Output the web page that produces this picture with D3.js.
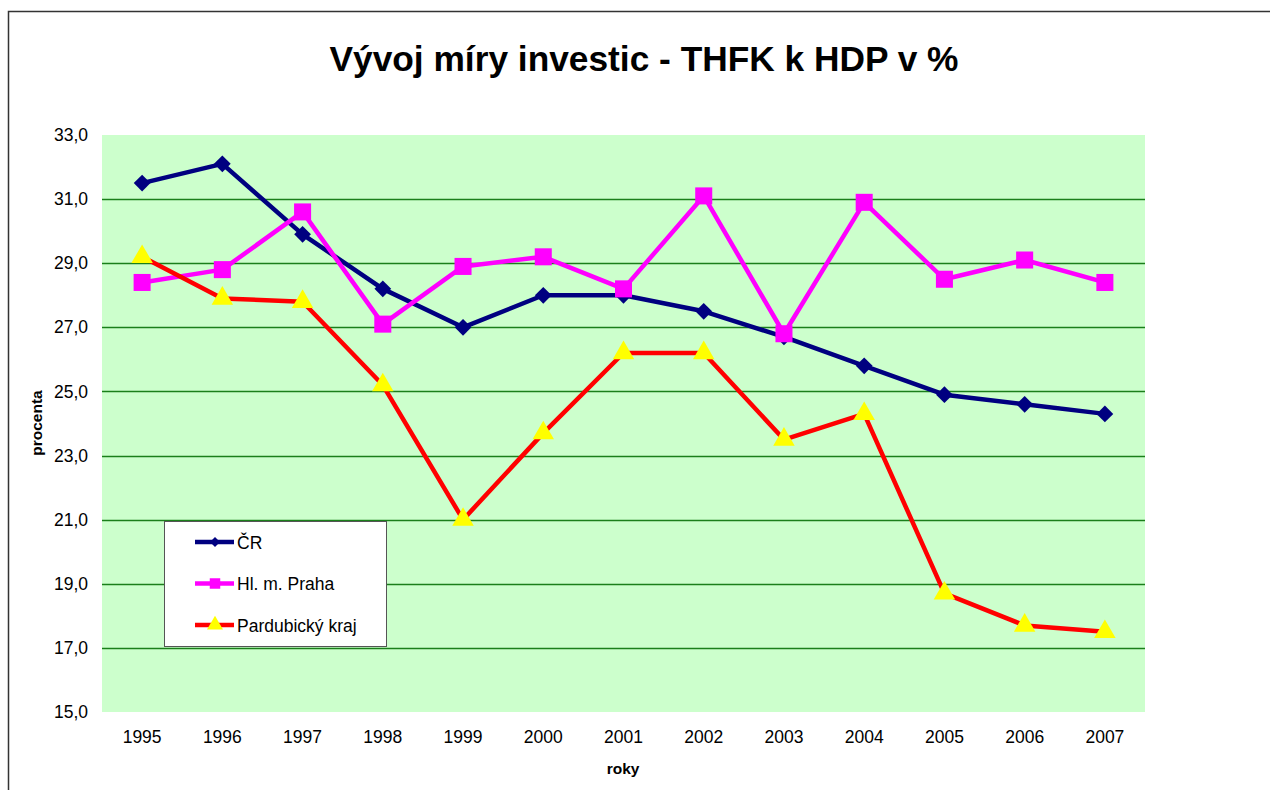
<!DOCTYPE html>
<html>
<head>
  <meta charset="utf-8">
  <style>
    body { margin: 0; background: #fff; font-family: "Liberation Sans", Arial, sans-serif; }
  </style>
  <title>Vývoj míry investic</title>
</head>
<body>
  <script src="https://cdn.jsdelivr.net/npm/d3@7"></script>
  <script>
    var years = [1995, 1996, 1997, 1998, 1999, 2000, 2001, 2002, 2003, 2004, 2005, 2006, 2007];
    var cr = [31.5, 32.1, 29.9, 28.2, 27.0, 28.0, 28.0, 27.5, 26.7, 25.8, 24.9, 24.6, 24.3];
    var praha = [28.4, 28.8, 30.6, 27.1, 28.9, 29.2, 28.2, 31.1, 26.8, 30.9, 28.5, 29.1, 28.4];
    var pardubice = [29.2, 27.9, 27.8, 25.2, 21.0, 23.7, 26.2, 26.2, 23.5, 24.3, 18.7, 17.7, 17.5];
    var yTicks = [15, 17, 19, 21, 23, 25, 27, 29, 31, 33];

    var series = [
      { name: "ČR", values: cr, color: "#000080", marker: "diamond", fill: "#000080" },
      { name: "Hl. m. Praha", values: praha, color: "#ff00ff", marker: "square", fill: "#ff00ff" },
      { name: "Pardubický kraj", values: pardubice, color: "#ff0000", marker: "triangle", fill: "#ffff00" }
    ];

    var W = 1270, H = 790;
    var plot = { left: 102, top: 135, right: 1145, bottom: 712 };

    var svg = d3.select("body").append("svg")
      .attr("width", W)
      .attr("height", H);

    // outer chart border
    svg.append("rect")
      .attr("x", 8.5).attr("y", 11.5)
      .attr("width", 1275).attr("height", 800)
      .attr("fill", "#fff")
      .attr("stroke", "#333").attr("stroke-width", 1.5);

    var x = d3.scaleBand()
      .domain(years)
      .range([plot.left, plot.right]);

    var y = d3.scaleLinear()
      .domain([15, 33])
      .range([plot.bottom, plot.top]);

    svg.append("rect")
      .attr("x", plot.left).attr("y", plot.top)
      .attr("width", plot.right - plot.left)
      .attr("height", plot.bottom - plot.top)
      .attr("fill", "#ccffcc");

    // gridlines
    svg.append("g").selectAll("line")
      .data(yTicks.filter(d => d > 15 && d < 33))
      .join("line")
      .attr("x1", plot.left).attr("x2", plot.right)
      .attr("y1", d => Math.round(y(d)) + 0.5).attr("y2", d => Math.round(y(d)) + 0.5)
      .attr("stroke", "#1a7f1a").attr("stroke-width", 1.3);

    // y axis labels
    var yAxis = d3.axisLeft(y)
      .tickValues(yTicks)
      .tickFormat(d => d3.format(".1f")(d).replace(".", ","))
      .tickSize(0)
      .tickPadding(14);
    svg.append("g")
      .attr("transform", "translate(" + plot.left + ",0)")
      .call(yAxis)
      .call(g => g.select(".domain").remove())
      .selectAll("text")
      .attr("font-size", 17.5)
      .attr("font-family", "Liberation Sans, Arial, sans-serif")
      .attr("fill", "#000");

    // x axis labels
    var xAxis = d3.axisBottom(x).tickSize(0).tickPadding(19);
    svg.append("g")
      .attr("transform", "translate(0," + plot.bottom + ")")
      .call(xAxis)
      .call(g => g.select(".domain").remove())
      .selectAll("text")
      .attr("font-size", 17.5)
      .attr("font-family", "Liberation Sans, Arial, sans-serif")
      .attr("fill", "#000");

    // title and axis titles
    svg.append("text")
      .attr("x", 644).attr("y", 71)
      .attr("text-anchor", "middle")
      .attr("font-size", 35.3).attr("font-weight", "bold")
      .text("Vývoj míry investic - THFK k HDP v %");

    svg.append("text")
      .attr("x", 623).attr("y", 774)
      .attr("text-anchor", "middle")
      .attr("font-size", 15.5).attr("font-weight", "bold")
      .text("roky");

    svg.append("text")
      .attr("transform", "translate(42,423) rotate(-90)")
      .attr("text-anchor", "middle")
      .attr("font-size", 15.5).attr("font-weight", "bold")
      .text("procenta");

    var cx = d => x(d) + x.bandwidth() / 2;

    var symbols = {
      diamond: d3.symbol().type(d3.symbolSquare).size(140),
      square: d3.symbol().type(d3.symbolSquare).size(290),
      triangle: d3.symbol().type(d3.symbolTriangle).size(200)
    };
    var rotate = { diamond: 45, square: 0, triangle: 0 };

    var line = d3.line()
      .x((d, i) => cx(years[i]))
      .y(d => y(d));

    series.forEach(function (s) {
      svg.append("path").datum(s.values)
        .attr("d", line)
        .attr("fill", "none")
        .attr("stroke", s.color)
        .attr("stroke-width", 4.5)
        .attr("stroke-linejoin", "round");

      svg.append("g").selectAll("path")
        .data(s.values)
        .join("path")
        .attr("d", symbols[s.marker])
        .attr("transform", (d, i) => "translate(" + cx(years[i]) + "," + y(d) + ") rotate(" + rotate[s.marker] + ")")
        .attr("fill", s.fill);
    });

    // legend
    var legend = svg.append("g");
    legend.append("rect")
      .attr("x", 164.5).attr("y", 521.5)
      .attr("width", 222).attr("height", 125)
      .attr("fill", "#fff")
      .attr("stroke", "#555").attr("stroke-width", 1);

    series.forEach(function (s, i) {
      var ly = 542 + i * 41.5;
      legend.append("line")
        .attr("x1", 195).attr("x2", 234)
        .attr("y1", ly).attr("y2", ly)
        .attr("stroke", s.color).attr("stroke-width", 4.5);
      legend.append("path")
        .attr("d", d3.symbol().type(s.marker === "triangle" ? d3.symbolTriangle : d3.symbolSquare)
          .size(s.marker === "diamond" ? 50 : 110))
        .attr("transform", "translate(215," + ly + ") rotate(" + rotate[s.marker] + ")")
        .attr("fill", s.fill);
      legend.append("text")
        .attr("x", 237).attr("y", ly + 6.5)
        .attr("font-size", 17.5)
        .text(s.name);
    });
  </script>
</body>
</html>
